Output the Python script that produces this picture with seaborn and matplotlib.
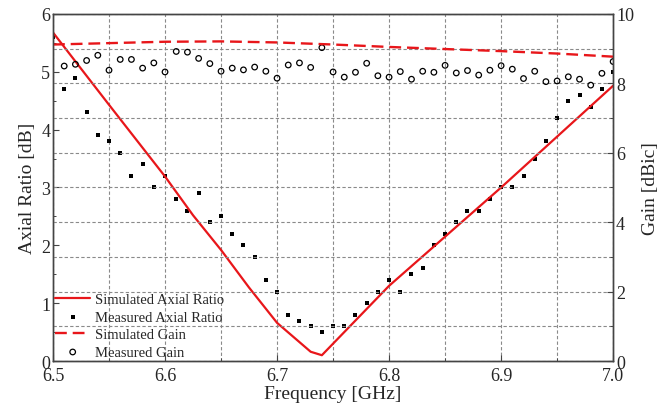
import numpy as np
import pandas as pd
import matplotlib
matplotlib.use('Agg')
import matplotlib.pyplot as plt
from matplotlib.ticker import MultipleLocator
import seaborn as sns

# 数据
freq_meas = np.round(np.arange(6.50, 7.001, 0.01), 2)
meas_ar = [5.6, 4.7, 4.9, 4.3, 3.9, 3.8, 3.6, 3.2, 3.4, 3.0,
           3.2, 2.8, 2.6, 2.9, 2.4, 2.5, 2.2, 2.0, 1.8, 1.4,
           1.2, 0.8, 0.7, 0.6, 0.5, 0.6, 0.6, 0.8, 1.0, 1.2,
           1.4, 1.2, 1.5, 1.6, 2.0, 2.2, 2.4, 2.6, 2.6, 2.8,
           3.0, 3.0, 3.2, 3.5, 3.8, 4.2, 4.5, 4.6, 4.4, 4.7, 5.0]
freq_gain_meas = freq_meas[1:]
meas_gain = [8.50, 8.55, 8.66, 8.81, 8.38, 8.69, 8.69, 8.44, 8.59, 8.33,
             8.92, 8.90, 8.72, 8.57, 8.35, 8.44, 8.39, 8.47, 8.35, 8.15,
             8.53, 8.59, 8.46, 9.03, 8.33, 8.18, 8.32, 8.58, 8.22, 8.18,
             8.34, 8.12, 8.35, 8.32, 8.52, 8.30, 8.37, 8.24, 8.38, 8.51,
             8.41, 8.14, 8.35, 8.05, 8.07, 8.19, 8.12, 7.95, 8.29, 8.63]
freq_sim_ar = [6.50, 6.55, 6.60, 6.625, 6.65, 6.675, 6.70, 6.73, 6.74, 6.75,
               6.80, 6.85, 6.90, 6.95, 7.00]
sim_ar = [5.68, 4.43, 3.19, 2.52, 1.92, 1.27, 0.66, 0.16, 0.10, 0.30,
          1.30, 2.15, 3.00, 3.88, 4.76]
freq_sim_gain = [6.50, 6.55, 6.60, 6.65, 6.70, 6.75, 6.80, 6.85, 6.90, 6.95, 7.00]
sim_gain = [9.12, 9.16, 9.20, 9.21, 9.18, 9.12, 9.05, 8.99, 8.93, 8.86, 8.77]

sns.set_theme(style='ticks')
plt.rcParams['font.family'] = ['Liberation Serif', 'DejaVu Serif']
plt.rcParams['xtick.direction'] = 'in'
plt.rcParams['ytick.direction'] = 'in'

fig = plt.figure(figsize=(6.65, 4.14), dpi=100)
ax = fig.add_axes([0.0797, 0.1256, 0.8423, 0.8382])
ax2 = ax.twinx()

red = '#e8161a'
grid_kw = dict(color='#8a8a8a', linestyle=(0, (3, 2)), linewidth=0.8)

# 轴比
sns.lineplot(x=freq_sim_ar, y=sim_ar, ax=ax, color=red, linewidth=1.6,
             label='Simulated Axial Ratio', legend=False)
sns.scatterplot(x=freq_meas, y=meas_ar, ax=ax, color='black', marker='s',
                s=11, linewidth=0, label='Measured Axial Ratio', legend=False)

# 增益
sns.lineplot(x=freq_sim_gain, y=sim_gain, ax=ax2, color=red, linewidth=1.7,
             dashes=False, label='Simulated Gain', legend=False)
ax2.lines[0].set_dashes([5, 2.5])
sns.scatterplot(x=freq_gain_meas, y=meas_gain, ax=ax2, facecolor='none',
                edgecolor='black', marker='o', s=16, linewidth=0.9,
                label='Measured Gain', legend=False)

ax.set_xlim(6.5, 7.0)
ax.set_ylim(0, 6)
ax2.set_ylim(0, 10)
ax.xaxis.set_major_locator(MultipleLocator(0.1))
ax.xaxis.set_minor_locator(MultipleLocator(0.05))
ax.yaxis.set_major_locator(MultipleLocator(1))
ax.yaxis.set_minor_locator(MultipleLocator(0.5))
ax2.yaxis.set_major_locator(MultipleLocator(2))
ax2.yaxis.set_minor_locator(MultipleLocator(1))
ax.set_xticks(np.round(np.arange(6.5, 7.01, 0.1), 1))
ax.set_xticklabels(['6.5', '6.6', '6.7', '6.8', '6.9', '7.0'])

ax.xaxis.grid(True, which='both', **grid_kw)
ax2.yaxis.grid(True, which='both', **grid_kw)
ax.yaxis.grid(False)

for a in (ax, ax2):
    for sp in a.spines.values():
        sp.set_color('#444444')
        sp.set_linewidth(1.0)
    a.tick_params(which='major', length=4, width=0.8, color='#444444',
                  labelsize=13, pad=2)
    a.tick_params(which='minor', length=2.5, width=0.7, color='#444444')
ax.tick_params(axis='x', pad=4)
ax.tick_params(axis='y', which='both', right=False)
ax2.tick_params(axis='y', which='both', left=False, right=True)

ax.set_xlabel('Frequency [GHz]', fontsize=14, labelpad=1)
ax.set_ylabel('Axial Ratio [dB]', fontsize=14, labelpad=4)
ax2.set_ylabel('Gain [dBic]', fontsize=14, labelpad=6)

h1, l1 = ax.get_legend_handles_labels()
h2, l2 = ax2.get_legend_handles_labels()
leg = ax2.legend(h1 + h2, l1 + l2, loc='lower left', frameon=False,
                 fontsize=10.5, borderaxespad=0.0, borderpad=0.15,
                 labelspacing=0.3, handlelength=2.4, handletextpad=0.3)

plt.savefig('out.png', dpi=100)
